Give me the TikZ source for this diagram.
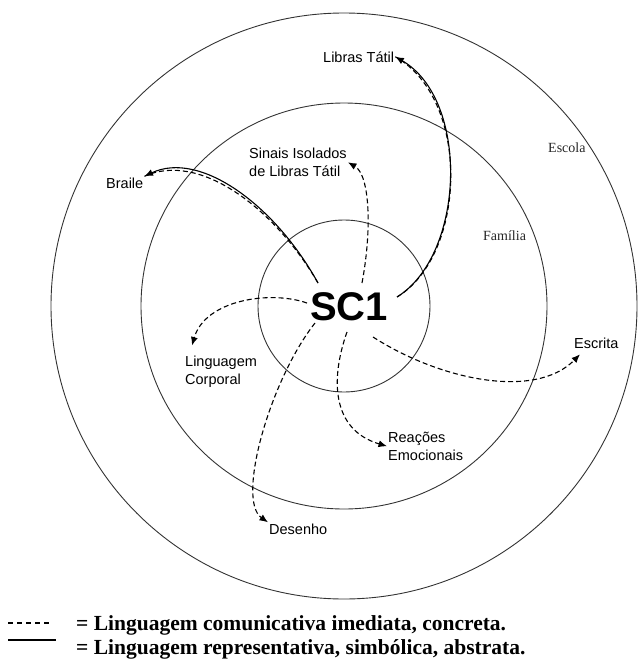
\documentclass[tikz,border=0pt]{standalone}
\usepackage{fontspec}
\setmainfont{Liberation Serif}
\setsansfont{Liberation Sans}
\usetikzlibrary{arrows.meta}

\begin{document}
\begin{tikzpicture}[x=1pt, y=-1pt,
			ring/.style={draw=black!80, line width=0.9pt},
			lbl/.style={font=\sffamily\fontsize{14.5}{18.5}\selectfont, inner sep=1pt, align=left},
			ctx/.style={font=\fontsize{14}{16}\selectfont, text=black!85, inner sep=0pt},
			leg/.style={font=\bfseries\fontsize{21.5}{24}\selectfont, inner sep=0pt},
			rep/.style={line width=1.1pt, -{Latex[length=8.5pt,width=7pt]}},
			imd/.style={line width=1.1pt, dash pattern=on 5pt off 3pt, -{Latex[length=8.5pt,width=7pt]}}
		]
		\useasboundingbox (0,0) rectangle (641,672);

		% contexts
		\draw[ring] (344,306) circle[radius=293pt];
		\draw[ring] (344,306) circle[radius=203pt];
		\draw[ring] (344,306) circle[radius=86pt];

		\node[ctx, anchor=base west] (escola) at (548,152) {Escola};
		\node[ctx, anchor=base west] (familia) at (483,240) {Família};

		\node[font=\sffamily\bfseries\fontsize{40}{40}\selectfont, inner sep=0pt] (sc) at (349,307) {SC1};

		\node[lbl, anchor=base west] (libras) at (322,62) {Libras Tátil};
		\node[lbl, anchor=north west] (sinais) at (248,146.5) {Sinais Isolados\\de Libras Tátil};
		\node[lbl, anchor=base west] (braile) at (105,188) {Braile};
		\node[lbl, anchor=north west] (ling) at (184,354.5) {Linguagem\\Corporal};
		\node[lbl, anchor=base west] (desenho) at (268,534) {Desenho};
		\node[lbl, anchor=north west] (reacoes) at (387,430.5) {Reações\\Emocionais};
		\node[lbl, anchor=base west] (escrita) at (573,348) {Escrita};

		\coordinate (sBraile) at (318,283);
		\coordinate (sLibras) at (397,297);
		\coordinate (sSinais) at (362,283);
		\coordinate (sLing) at (307,303);
		\coordinate (sDesenho) at (315,323);
		\coordinate (sReacoes) at (347,332);
		\coordinate (sEscrita) at (373,337);

		% solid + dashed
		\draw[rep] (sBraile) .. controls (275,205) and (200,150) .. (braile.north east);
		\draw[imd, -, xshift=-1.5pt, yshift=-1.5pt] (sBraile) .. controls (275,205) and (200,150) .. (braile.north east);
		\draw[rep] (sLibras) .. controls (465,255) and (470,100) .. (libras.east);
		\draw[imd, -, xshift=1.5pt] (sLibras) .. controls (465,255) and (470,100) .. (libras.east);

		% dashed only
		\draw[imd] (sSinais) .. controls (372,230) and (370,175) .. (sinais.east);
		\draw[imd] (sLing) .. controls (270,290) and (205,300) .. ([xshift=8pt,yshift=9pt]ling.north west);
		\draw[imd] (sDesenho) .. controls (270,380) and (236,500) .. (desenho.north west);
		\draw[imd] (sReacoes) .. controls (330,380) and (332,430) .. (reacoes.west);
		\draw[imd] (sEscrita) .. controls (440,380) and (535,400) .. ([xshift=7pt,yshift=-5pt]escrita.south west);

		% legend
		\node[leg, anchor=base west] (legA) at (76,630) {= Linguagem comunicativa imediata, concreta.};
		\node[leg, anchor=base west] (legB) at (76,654) {= Linguagem representativa, simbólica, abstrata.};
		\draw[line width=1.4pt, dash pattern=on 5pt off 4pt] ([shift={(-68pt,7pt)}]legA.base west) -- ([shift={(-26pt,7pt)}]legA.base west);
		\draw[line width=1.6pt] ([shift={(-68pt,14pt)}]legB.base west) -- ([shift={(-20pt,14pt)}]legB.base west);

	\end{tikzpicture}
\end{document}
